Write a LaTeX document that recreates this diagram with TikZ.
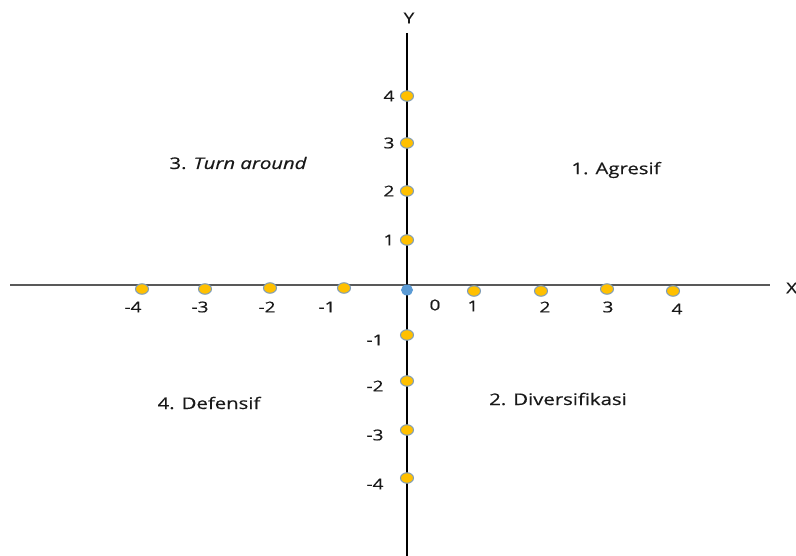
\documentclass[tikz,border=0pt]{standalone}
\usepackage{fontspec}
\setmainfont{Open Sans}[FakeStretch=1.27,FakeBold=0.5]
\newfontfamily\itfont{Open Sans Italic}[FakeStretch=1.27,FakeBold=0.5]
\usetikzlibrary{shapes.geometric}
\definecolor{dotfill}{HTML}{FFC000}
\definecolor{dotline}{HTML}{7F9DB9}
\definecolor{origin}{HTML}{5B9BD5}
\definecolor{xaxis}{HTML}{595959}
\begin{document}
\begin{tikzpicture}[x=1pt,y=-1pt,
  dot/.style={ellipse,draw=dotline,fill=dotfill,line width=1pt,minimum width=13pt,minimum height=10.5pt,inner sep=0pt},
  odot/.style={ellipse,fill=origin,minimum width=12pt,minimum height=11pt,inner sep=0pt},
  lab/.style={font=\fontsize{15}{17}\selectfont,text=black!90,inner sep=0pt},
  quad/.style={font=\fontsize{16}{19}\selectfont,text=black!90,inner sep=0pt}]
\useasboundingbox (0,0) rectangle (796,556);
\coordinate (xl) at (10,285);
\coordinate (xr) at (770,285);
\coordinate (yt) at (407,33);
\coordinate (yb) at (407,556);
\draw[xaxis,line width=1.3pt] (xl) -- (xr);
\draw[black,line width=1.3pt] (yt) -- (yb);
\node[lab] (ylab) at (409,18) {Y};
\node[lab,anchor=west] (xlab) at (786,288) {X};
% y dots
\node[dot] (y4) at (407,96) {};
\node[dot] (y3) at (407,143) {};
\node[dot] (y2) at (407,191) {};
\node[dot] (y1) at (407,240) {};
\node[dot] (ym1) at (407,335) {};
\node[dot] (ym2) at (407,381) {};
\node[dot] (ym3) at (407,430) {};
\node[dot] (ym4) at (407,478) {};
\node[lab] (ly4) at (389,96) {4};
\node[lab] (ly3) at (389,143) {3};
\node[lab] (ly2) at (389,191) {2};
\node[lab] (ly1) at (389,240) {1};
\node[lab] (lym1) at (375,340) {-1};
\node[lab] (lym2) at (375,386) {-2};
\node[lab] (lym3) at (375,435) {-3};
\node[lab] (lym4) at (375,484) {-4};
% x dots
\node[dot] (xm4) at (142,289) {};
\node[dot] (xm3) at (205,289) {};
\node[dot] (xm2) at (270,288) {};
\node[dot] (xm1) at (344,288) {};
\node[odot] (o) at (407,290) {};
\node[dot] (x1) at (474,291) {};
\node[dot] (x2) at (541,291) {};
\node[dot] (x3) at (607,289) {};
\node[dot] (x4) at (673,291) {};
\node[lab] (lxm4) at (133,307) {-4};
\node[lab] (lxm3) at (200,307) {-3};
\node[lab] (lxm2) at (267,307) {-2};
\node[lab] (lxm1) at (327,307) {-1};
\node[lab] (l0) at (435,305) {0};
\node[lab] (lx1) at (473,306) {1};
\node[lab] (lx2) at (545,307) {2};
\node[lab] (lx3) at (608,307) {3};
\node[lab] (lx4) at (677,309) {4};
% quadrants
\node[quad] (q3) at (238,163) {3. {\itfont Turn around}};
\node[quad] (q1) at (616,170) {1. Agresif};
\node[quad] (q4) at (209,403) {4. Defensif};
\node[quad] (q2) at (558,399) {2. Diversifikasi};
\end{tikzpicture}
\end{document}
